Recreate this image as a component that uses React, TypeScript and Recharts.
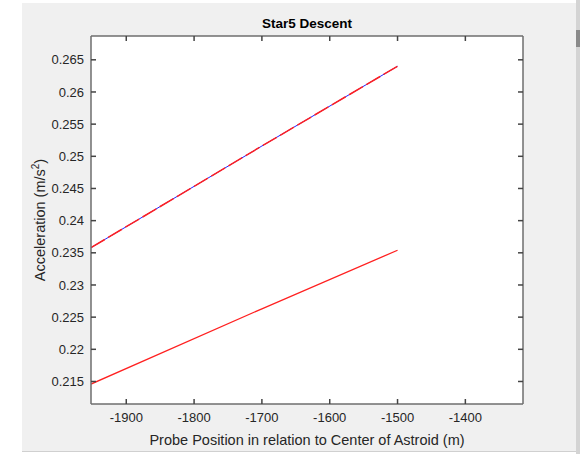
import React from 'react';
import { LineChart, Line, XAxis, YAxis, CartesianGrid } from 'recharts';

const positions = [-1952, -1700, -1500];
const upperBlue = [0.2358, 0.2516, 0.264];
const upperRed = [0.2358, 0.2516, 0.264];
const lowerRed = [0.2146, 0.2263, 0.2354];

const xTicks = [-1900, -1800, -1700, -1600, -1500, -1400];
const yTicks = [0.215, 0.22, 0.225, 0.23, 0.235, 0.24, 0.245, 0.25, 0.255, 0.26, 0.265];
const xDomain = [-1952, -1315];
const yDomain = [0.2115, 0.2687];

const title = 'Star5 Descent';
const xLabel = 'Probe Position in relation to Center of Astroid (m)';

const data = positions.map((p, i) => ({
  x: p,
  ub: upperBlue[i],
  ur: upperRed[i],
  lr: lowerRed[i],
}));

const FONT = '"Liberation Sans", Arial, Helvetica, sans-serif';
const AXIS = '#6e6e6e';
const TXT = '#262626';
const fmtY = (v: number) => String(Number(v.toFixed(3)));
const blank = () => '';

export default function App() {
  return (
    <div style={{ position: 'absolute', left: 0, top: 0, width: 580, height: 454, background: '#fff', fontFamily: FONT }}>
      <div style={{ position: 'absolute', left: 22, top: 3, width: 554, height: 448, background: '#f0f0f0', borderBottom: '1px solid #d0d0d0' }} />
      <div style={{ position: 'absolute', left: 576, top: 0, width: 4, height: 454, background: '#d4d4d4' }} />
      <div style={{ position: 'absolute', left: 576, top: 30, width: 4, height: 17, background: '#8a8a8a' }} />
      <div style={{ position: 'absolute', left: 0, top: 0 }}>
        <LineChart
          width={580}
          height={454}
          data={data}
          margin={{ top: 34, right: 55, bottom: 20, left: 31 }}
          style={{ fontFamily: FONT }}
        >
          <CartesianGrid fill="#ffffff" horizontal={false} vertical={false} />
          <XAxis
            xAxisId="b"
            dataKey="x"
            type="number"
            domain={xDomain}
            ticks={xTicks}
            allowDataOverflow
            height={30}
            tickSize={-5}
            tickMargin={14}
            stroke={AXIS}
            strokeWidth={1.5}
            tick={{ fill: TXT, fontSize: 13, fontFamily: FONT }}
            tickLine={{ stroke: '#444' }}
          />
          <XAxis
            xAxisId="t"
            orientation="top"
            dataKey="x"
            type="number"
            domain={xDomain}
            ticks={xTicks}
            allowDataOverflow
            height={2}
            tickSize={-5}
            tickFormatter={blank}
            stroke={AXIS}
            strokeWidth={1.5}
            tickLine={{ stroke: '#444' }}
          />
          <YAxis
            yAxisId="l"
            type="number"
            domain={yDomain}
            ticks={yTicks}
            allowDataOverflow
            width={60}
            tickSize={-5}
            tickMargin={12}
            tickFormatter={fmtY}
            stroke={AXIS}
            strokeWidth={1.5}
            tick={{ fill: TXT, fontSize: 13, fontFamily: FONT }}
            tickLine={{ stroke: '#444' }}
          />
          <YAxis
            yAxisId="r"
            orientation="right"
            type="number"
            domain={yDomain}
            ticks={yTicks}
            allowDataOverflow
            width={2}
            tickSize={-5}
            tickFormatter={blank}
            stroke={AXIS}
            strokeWidth={1.5}
            tickLine={{ stroke: '#444' }}
          />
          <Line xAxisId="b" yAxisId="l" type="linear" dataKey="ub" stroke="#2020ff" strokeWidth={1} dot={false} isAnimationActive={false} />
          <Line xAxisId="b" yAxisId="l" type="linear" dataKey="ur" stroke="#ff2020" strokeWidth={1.5} strokeDasharray="16 4" dot={false} isAnimationActive={false} />
          <Line xAxisId="b" yAxisId="l" type="linear" dataKey="lr" stroke="#ff2020" strokeWidth={1.3} dot={false} isAnimationActive={false} />
          <Line xAxisId="t" yAxisId="r" type="linear" dataKey="lr" stroke="none" strokeWidth={0} dot={false} legendType="none" isAnimationActive={false} />
        </LineChart>
      </div>
      <svg width={580} height={454} style={{ position: 'absolute', left: 0, top: 0, pointerEvents: 'none' }}>
        <text x={307} y={28} textAnchor="middle" fontSize={13.5} fontWeight="bold" fill="#000" fontFamily={FONT}>{title}</text>
        <text x={307} y={445} textAnchor="middle" fontSize={14.5} fill={TXT} fontFamily={FONT}>{xLabel}</text>
        <text transform="translate(45,220) rotate(-90)" textAnchor="middle" fontSize={14.5} fill={TXT} fontFamily={FONT}>
          Acceleration (m/s<tspan dy={-6} fontSize={10}>2</tspan><tspan dy={6}>)</tspan>
        </text>
      </svg>
    </div>
  );
}
